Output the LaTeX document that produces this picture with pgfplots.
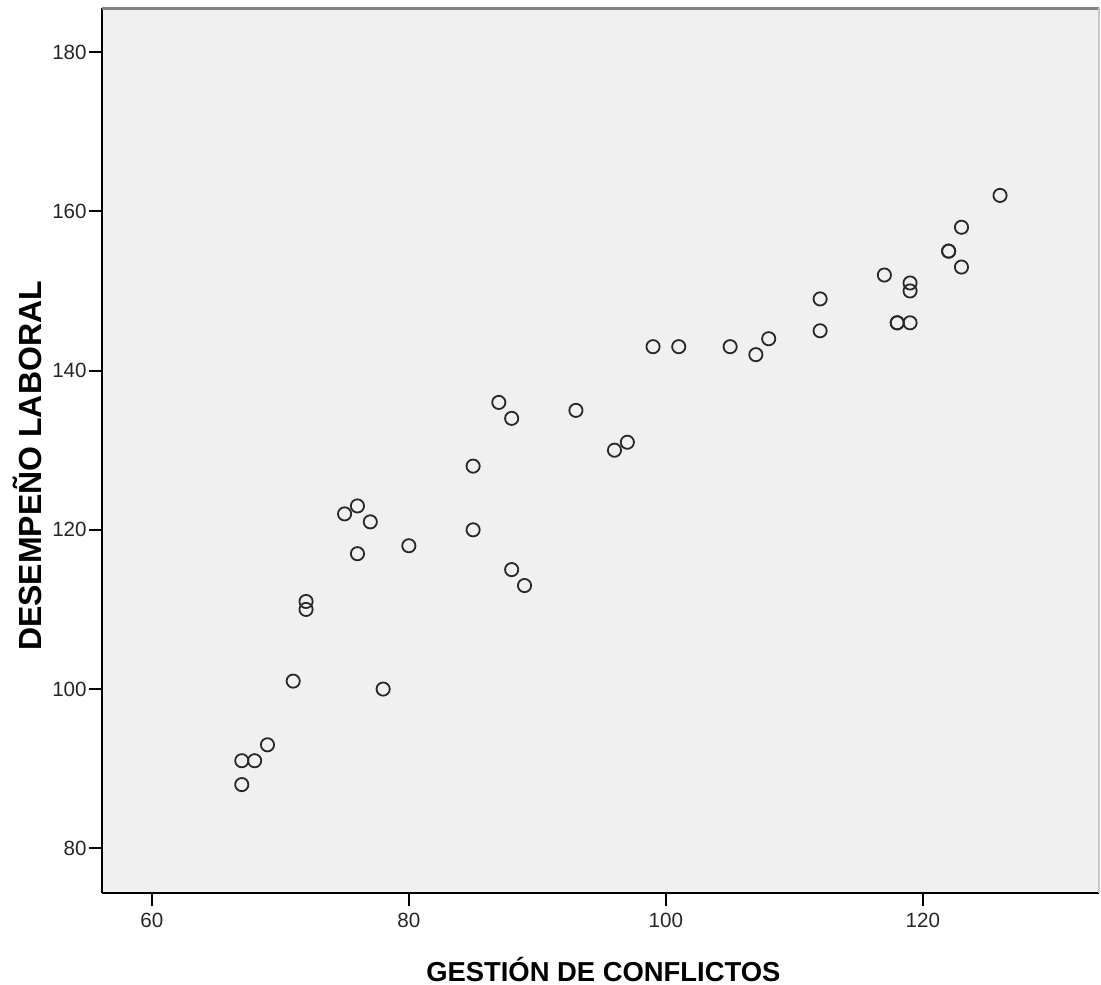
\documentclass[border=0pt]{standalone}
\usepackage{fontspec}
\setmainfont{Liberation Sans}
\usepackage{pgfplots}
\pgfplotsset{compat=1.18}
\definecolor{plotbg}{RGB}{240,240,240}
\definecolor{markc}{RGB}{40,40,40}
\definecolor{topline}{RGB}{130,130,130}
\definecolor{rightline}{RGB}{200,200,200}

\begin{document}
\begin{tikzpicture}
\begin{axis}[
  name=ax,
  scale only axis,
  width=498.65pt, height=442.5pt,
  xmin=56.1, xmax=133.7,
  ymin=74.35, ymax=185.5,
  xtick={60,80,100,120},
  ytick={80,100,120,140,160,180},
  axis x line*=bottom, axis y line*=left,
  axis line style={black, line width=1pt, -},
  axis background/.style={fill=plotbg},
  tick align=outside,
  major tick length=6.5pt,
  tick style={black, line width=1pt},
  /pgf/number format/assume math mode=true,
  tick label style={font=\fontsize{10.3}{12}\selectfont, text=black!85},
  xticklabel style={yshift=0pt},
  yticklabel style={xshift=2.5pt},
  xlabel={GESTIÓN DE CONFLICTOS},
  ylabel={DESEMPEÑO LABORAL},
  xlabel style={at={(rel axis cs:0.503,-0.0856)}, anchor=center,
    font=\bfseries\fontsize{13.7}{16}\selectfont},
  ylabel style={at={(rel axis cs:-0.0745,0.4828)}, anchor=center, rotate=0,
    font=\bfseries\fontsize{16}{18}\selectfont},
  clip=false,
]
\addplot[only marks, mark=o, mark size=3.3pt,
  mark options={draw=markc, line width=0.9pt}] coordinates {
  (126,162) (123,158) (122,155) (122,155) (123,153) (117,152)
  (119,151) (119,150) (118,146) (118,146) (119,146)
  (112,149) (112,145) (108,144) (107,142) (105,143) (101,143) (99,143)
  (97,131) (96,130) (93,135) (87,136) (88,134) (85,128) (85,120)
  (88,115) (89,113) (80,118) (77,121) (76,123) (75,122) (76,117)
  (72,111) (72,110) (71,101) (78,100) (69,93) (68,91) (67,91) (67,88)
};
\end{axis}
\draw[topline, line width=1.5pt] (ax.north west) -- (ax.north east);
\draw[rightline, line width=0.6pt] (ax.north east) -- (ax.south east);
\pgfresetboundingbox
\path (ax.south west) ++(-50.85pt,-45.85pt) coordinate (bl);
\path (ax.north east) ++(1pt,4.15pt) coordinate (tr);
\path (bl) rectangle (tr);
\end{tikzpicture}
\end{document}
